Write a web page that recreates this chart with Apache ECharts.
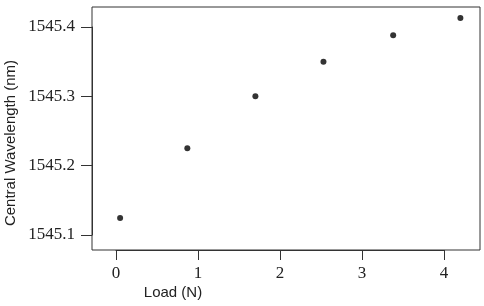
<!DOCTYPE html>
<html>
<head>
<meta charset="utf-8">
<script src="https://cdn.jsdelivr.net/npm/echarts@6/dist/echarts.min.js"></script>
<style>
  html, body { margin: 0; padding: 0; background: #fff; }
  #chart { width: 484px; height: 306px; }
</style>
</head>
<body>
<div id="chart"></div>
<script>
var loadN = [0.05, 0.87, 1.70, 2.53, 3.38, 4.20];
var wavelength = [1545.1245, 1545.225, 1545.300, 1545.350, 1545.388, 1545.413];
var xTicks = [0, 4, 1];          // min, max, interval
var yTicks = [1545.1, 1545.4, 0.1];

var ink = '#222';
var frame = '#333';
var serif = '"Liberation Serif", "DejaVu Serif", serif';
var sans = '"Liberation Sans", Arial, sans-serif';

var chart = echarts.init(document.getElementById('chart'));
chart.setOption({
  animation: false,
  grid: [
    // data grid: spans exactly the tick range, axes pushed out onto the frame
    { left: 116, right: 40, top: 27, bottom: 71 },
    // frame only
    { left: 92, right: 4, top: 7, bottom: 56, show: true, borderColor: frame, borderWidth: 1 }
  ],
  xAxis: [{
    gridIndex: 0, type: 'value',
    min: xTicks[0], max: xTicks[1], interval: xTicks[2],
    offset: 15,
    axisLine: { show: true, onZero: false, lineStyle: { color: frame, width: 1 } },
    splitLine: { show: false },
    axisTick: { show: true, length: 10, lineStyle: { color: frame } },
    axisLabel: { margin: 15, color: ink, fontFamily: serif, fontSize: 17 }
  }, {
    gridIndex: 1, type: 'value', min: 0, max: 1, show: false
  }],
  yAxis: [{
    gridIndex: 0, type: 'value',
    min: yTicks[0], max: yTicks[1], interval: yTicks[2],
    offset: 24,
    axisLine: { show: true, onZero: false, lineStyle: { color: frame, width: 1 } },
    splitLine: { show: false },
    axisTick: { show: true, length: 11, lineStyle: { color: frame } },
    axisLabel: {
      margin: 17, color: ink, fontFamily: serif, fontSize: 17,
      formatter: function (v) { return v.toFixed(1); }
    }
  }, {
    gridIndex: 1, type: 'value', min: 0, max: 1, show: false
  }],
  graphic: [
    {
      type: 'text', x: 173, y: 293,
      style: { text: 'Load (N)', font: '15px ' + sans, fill: ink, align: 'center', verticalAlign: 'middle' }
    },
    {
      type: 'text', x: 11, y: 143, rotation: Math.PI / 2,
      style: { text: 'Central Wavelength (nm)', font: '15px ' + sans, fill: ink, align: 'center', verticalAlign: 'middle' }
    }
  ],
  series: [{
    type: 'scatter',
    xAxisIndex: 0, yAxisIndex: 0,
    clip: false,
    data: loadN.map(function (x, i) { return [x, wavelength[i]]; }),
    symbol: 'circle',
    symbolSize: 6,
    itemStyle: { color: '#000' }
  }]
});
window.addEventListener('resize', function () { chart.resize(); });
</script>
</body>
</html>
